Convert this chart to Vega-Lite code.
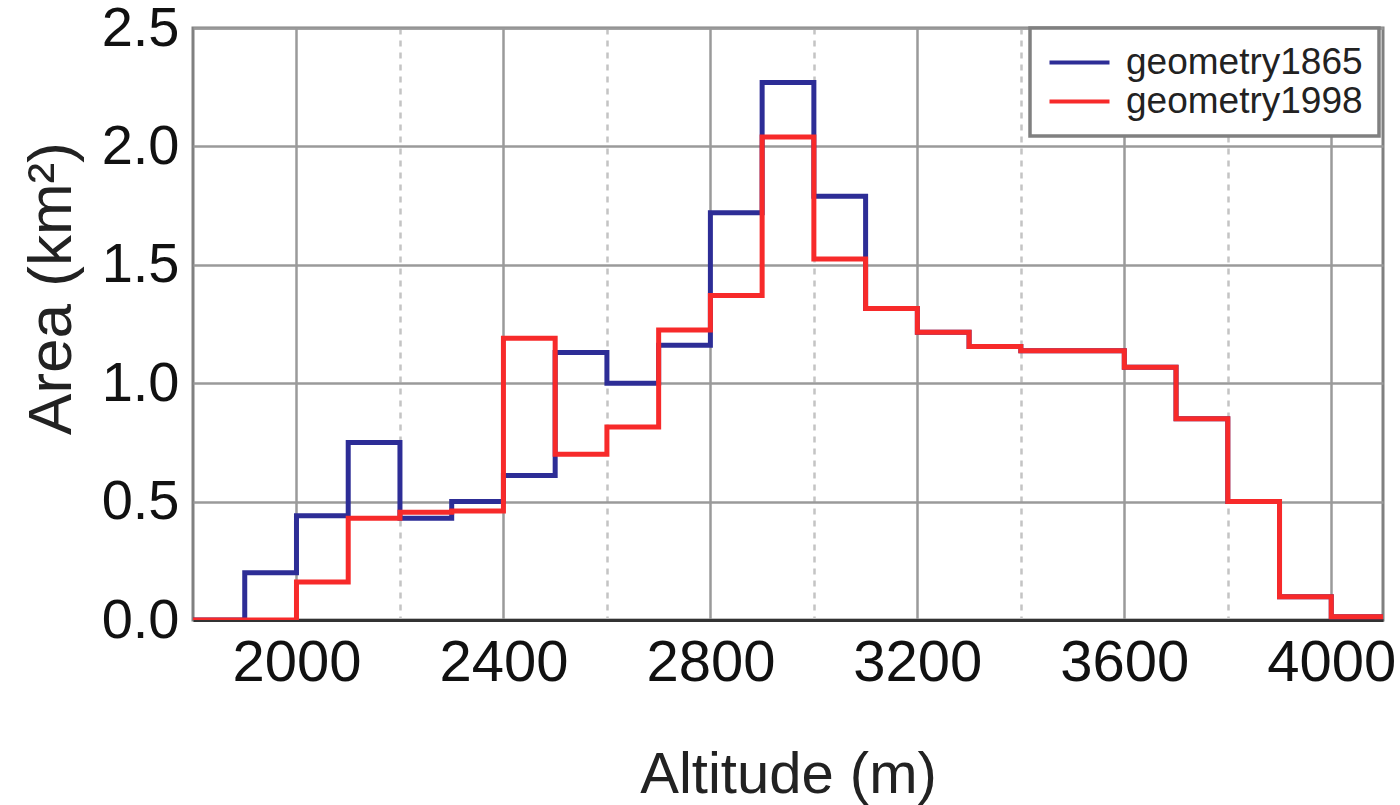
{
  "$schema": "https://vega.github.io/schema/vega-lite/v6.json",
  "autosize": {"type": "none"},
  "width": 1190,
  "height": 592,
  "padding": {"left": 193, "top": 28, "right": 17, "bottom": 185},
  "background": "white",
  "config": {
    "font": "Liberation Sans",
    "view": {"stroke": "#808080", "strokeWidth": 3}
  },
  "data": {
    "values": [
      {"altitude": 1800, "area": 0, "series": "geometry1865"},
      {"altitude": 1900, "area": 0.2, "series": "geometry1865"},
      {"altitude": 2000, "area": 0.44, "series": "geometry1865"},
      {"altitude": 2100, "area": 0.75, "series": "geometry1865"},
      {"altitude": 2200, "area": 0.43, "series": "geometry1865"},
      {"altitude": 2300, "area": 0.5, "series": "geometry1865"},
      {"altitude": 2400, "area": 0.61, "series": "geometry1865"},
      {"altitude": 2500, "area": 1.13, "series": "geometry1865"},
      {"altitude": 2600, "area": 1.0, "series": "geometry1865"},
      {"altitude": 2700, "area": 1.16, "series": "geometry1865"},
      {"altitude": 2800, "area": 1.72, "series": "geometry1865"},
      {"altitude": 2900, "area": 2.27, "series": "geometry1865"},
      {"altitude": 3000, "area": 1.79, "series": "geometry1865"},
      {"altitude": 3100, "area": 1.315, "series": "geometry1865"},
      {"altitude": 3200, "area": 1.215, "series": "geometry1865"},
      {"altitude": 3300, "area": 1.155, "series": "geometry1865"},
      {"altitude": 3400, "area": 1.137, "series": "geometry1865"},
      {"altitude": 3500, "area": 1.137, "series": "geometry1865"},
      {"altitude": 3600, "area": 1.067, "series": "geometry1865"},
      {"altitude": 3700, "area": 0.85, "series": "geometry1865"},
      {"altitude": 3800, "area": 0.5, "series": "geometry1865"},
      {"altitude": 3900, "area": 0.098, "series": "geometry1865"},
      {"altitude": 4000, "area": 0.014, "series": "geometry1865"},
      {"altitude": 4100, "area": 0.014, "series": "geometry1865"},
      {"altitude": 1800, "area": 0, "series": "geometry1998"},
      {"altitude": 1900, "area": 0, "series": "geometry1998"},
      {"altitude": 2000, "area": 0.16, "series": "geometry1998"},
      {"altitude": 2100, "area": 0.43, "series": "geometry1998"},
      {"altitude": 2200, "area": 0.455, "series": "geometry1998"},
      {"altitude": 2300, "area": 0.46, "series": "geometry1998"},
      {"altitude": 2400, "area": 1.19, "series": "geometry1998"},
      {"altitude": 2500, "area": 0.7, "series": "geometry1998"},
      {"altitude": 2600, "area": 0.815, "series": "geometry1998"},
      {"altitude": 2700, "area": 1.225, "series": "geometry1998"},
      {"altitude": 2800, "area": 1.37, "series": "geometry1998"},
      {"altitude": 2900, "area": 2.04, "series": "geometry1998"},
      {"altitude": 3000, "area": 1.525, "series": "geometry1998"},
      {"altitude": 3100, "area": 1.315, "series": "geometry1998"},
      {"altitude": 3200, "area": 1.215, "series": "geometry1998"},
      {"altitude": 3300, "area": 1.155, "series": "geometry1998"},
      {"altitude": 3400, "area": 1.137, "series": "geometry1998"},
      {"altitude": 3500, "area": 1.137, "series": "geometry1998"},
      {"altitude": 3600, "area": 1.067, "series": "geometry1998"},
      {"altitude": 3700, "area": 0.85, "series": "geometry1998"},
      {"altitude": 3800, "area": 0.5, "series": "geometry1998"},
      {"altitude": 3900, "area": 0.098, "series": "geometry1998"},
      {"altitude": 4000, "area": 0.014, "series": "geometry1998"},
      {"altitude": 4100, "area": 0.014, "series": "geometry1998"}
    ]
  },
  "mark": {"type": "line", "interpolate": "step-after", "strokeWidth": 5, "clip": true},
  "encoding": {
    "x": {
      "field": "altitude",
      "type": "quantitative",
      "scale": {"domain": [1800, 4100], "nice": false, "zero": false},
      "axis": {
        "values": [2000, 2200, 2400, 2600, 2800, 3000, 3200, 3400, 3600, 3800, 4000],
        "format": "d",
        "labelExpr": "datum.value % 400 === 0 ? datum.label : ''",
        "grid": true,
        "gridColor": {"condition": {"test": "datum.value % 400 === 0", "value": "#9a9a9a"}, "value": "#c4c4c4"},
        "gridDash": {"condition": {"test": "datum.value % 400 === 0", "value": []}, "value": [6, 6]},
        "gridWidth": 2.5,
        "ticks": false,
        "domainColor": "#333333",
        "domainWidth": 3,
        "labelFontSize": 58,
        "labelColor": "#111111",
        "labelPadding": 14,
        "title": "Altitude (m)",
        "titleFontSize": 58,
        "titleFontWeight": "normal",
        "titleColor": "#222222",
        "titlePadding": 54
      }
    },
    "y": {
      "field": "area",
      "type": "quantitative",
      "scale": {"domain": [0, 2.5], "nice": false},
      "axis": {
        "values": [0, 0.5, 1, 1.5, 2, 2.5],
        "format": ".1f",
        "grid": true,
        "gridColor": "#9a9a9a",
        "gridWidth": 2.5,
        "ticks": false,
        "domain": false,
        "labelFontSize": 56,
        "labelColor": "#111111",
        "labelPadding": 14,
        "title": "Area (km²)",
        "titleFontSize": 62,
        "titleFontWeight": "normal",
        "titleColor": "#222222",
        "titlePadding": 18,
        "titleY": 260
      }
    },
    "color": {
      "field": "series",
      "type": "nominal",
      "scale": {"domain": ["geometry1865", "geometry1998"], "range": ["#2d2d96", "#f72a2a"]},
      "legend": {
        "orient": "none",
        "legendX": 837,
        "legendY": 0,
        "title": null,
        "strokeColor": "#808080",
        "fillColor": "white",
        "padding": 16,
        "labelFontSize": 37,
        "labelLimit": 0,
        "labelColor": "#222222",
        "symbolType": "M-1,0H3",
        "symbolSize": 900,
        "symbolStrokeWidth": 4,
        "labelOffset": 43,
        "rowPadding": 1,
        "encode": {"legend": {"update": {"strokeWidth": {"value": 3.5}}}}
      }
    }
  }
}
